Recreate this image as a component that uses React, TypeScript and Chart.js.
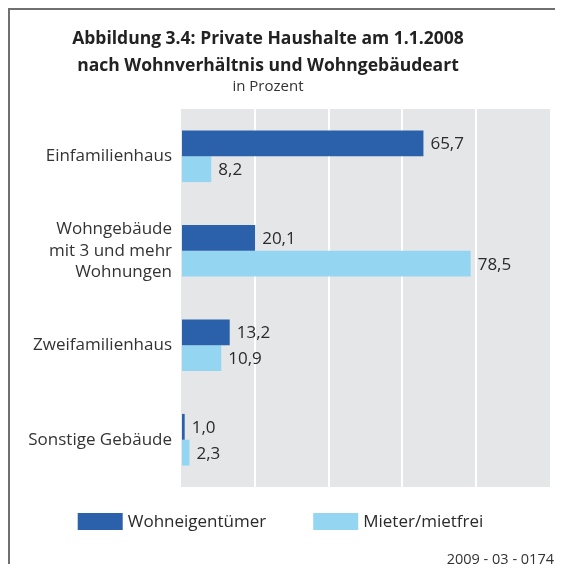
import React, { useEffect, useRef } from 'react';
import { Chart, registerables } from 'chart.js';

Chart.register(...registerables);

// ---- data ----
const categories: (string | string[])[] = [
  'Einfamilienhaus',
  ['Wohngebäude', 'mit 3 und mehr', 'Wohnungen'],
  'Zweifamilienhaus',
  'Sonstige Gebäude',
];
const seriesNames = ['Wohneigentümer', 'Mieter/mietfrei'];
const ownerValues = [65.7, 20.1, 13.2, 1.0];
const tenantValues = [8.2, 78.5, 10.9, 2.3];
const xMin = 0;
const xMax = 100;
const xStep = 20;
const titleLines = ['Abbildung 3.4: Private Haushalte am 1.1.2008', 'nach Wohnverhältnis und Wohngebäudeart'];
const subtitleText = 'in Prozent';
const footnoteText = '2009 - 03 - 0174';

// ---- style ----
const FONT = '"Open Sans", "DejaVu Sans", sans-serif';
const DARK = '#2b60aa';
const LIGHT = '#94d6f1';
const PLOT_BG = '#e5e6e8';
const TEXT = '#2a2a2a';
const LABEL_SIZE = 17;

const fmt = (v: number) => v.toFixed(1).replace('.', ',');

const plotBackground = {
  id: 'plotBackground',
  beforeDraw(chart: any) {
    const { ctx, chartArea } = chart;
    if (!chartArea) return;
    ctx.save();
    ctx.fillStyle = PLOT_BG;
    ctx.fillRect(chartArea.left, chartArea.top, chartArea.right - chartArea.left, chartArea.bottom - chartArea.top);
    ctx.restore();
  },
};

const valueLabels = {
  id: 'valueLabels',
  afterDatasetsDraw(chart: any) {
    const { ctx } = chart;
    ctx.save();
    ctx.font = `${LABEL_SIZE}px ${FONT}`;
    ctx.fillStyle = TEXT;
    ctx.textAlign = 'left';
    ctx.textBaseline = 'middle';
    chart.data.datasets.forEach((ds: any, i: number) => {
      const meta = chart.getDatasetMeta(i);
      meta.data.forEach((bar: any, j: number) => {
        ctx.fillText(fmt(ds.data[j]), bar.x + 7, bar.y + 1);
      });
    });
    ctx.restore();
  },
};

const customLegend = {
  id: 'customLegend',
  afterDraw(chart: any) {
    const { ctx } = chart;
    const boxW = 45;
    const boxH = 17;
    const gap = 5;
    const itemGap = 47;
    const centerX = 270.5;
    const boxTop = 503;
    ctx.save();
    ctx.font = `${LABEL_SIZE}px ${FONT}`;
    const items = chart.data.datasets.map((ds: any) => ({
      text: ds.label,
      color: ds.backgroundColor,
      w: ctx.measureText(ds.label).width,
    }));
    const total = items.reduce((s: number, it: any) => s + boxW + gap + it.w, 0) + itemGap * (items.length - 1);
    let x = centerX - total / 2;
    ctx.textBaseline = 'middle';
    ctx.textAlign = 'left';
    items.forEach((it: any) => {
      ctx.fillStyle = it.color;
      ctx.fillRect(x, boxTop, boxW, boxH);
      ctx.fillStyle = TEXT;
      ctx.fillText(it.text, x + boxW + gap, boxTop + boxH / 2 + 1);
      x += boxW + gap + it.w + itemGap;
    });
    ctx.restore();
  },
};

export default function App() {
  const ref = useRef<HTMLCanvasElement>(null);

  useEffect(() => {
    document.documentElement.style.overflow = 'hidden';
    let chart: Chart | null = null;
    let cancelled = false;
    const make = () => {
      if (cancelled || !ref.current) return;
      chart = new Chart(ref.current, {
        type: 'bar',
        data: {
          labels: categories as any,
          datasets: [
            {
              label: seriesNames[0],
              data: ownerValues,
              backgroundColor: DARK,
              borderWidth: 0,
              categoryPercentage: 0.547,
              barPercentage: 1.0,
            },
            {
              label: seriesNames[1],
              data: tenantValues,
              backgroundColor: LIGHT,
              borderWidth: 0,
              categoryPercentage: 0.547,
              barPercentage: 1.0,
            },
          ],
        },
        options: {
          indexAxis: 'y',
          responsive: false,
          animation: false,
          devicePixelRatio: 1,
          layout: { padding: { top: 99, right: 13, bottom: 85, left: 0 } },
          plugins: {
            legend: { display: false },
            title: { display: false },
            tooltip: { enabled: false },
          },
          scales: {
            x: {
              type: 'linear',
              min: xMin,
              max: xMax,
              ticks: { display: false, stepSize: xStep },
              grid: {
                drawTicks: false,
                lineWidth: 2,
                color: (c: any) =>
                  c.tick && (c.tick.value === xMin || c.tick.value === xMax) ? 'rgba(0,0,0,0)' : '#ffffff',
              },
              border: { display: false },
              afterFit(scale: any) {
                scale.height = 0;
              },
            },
            y: {
              type: 'category',
              grid: { display: false, drawTicks: false },
              border: { display: false },
              ticks: {
                color: '#333333',
                padding: 9,
                font: { family: FONT, size: LABEL_SIZE, lineHeight: 1.28 },
              },
              afterFit(scale: any) {
                scale.width = 171;
              },
            },
          },
        },
        plugins: [plotBackground, valueLabels, customLegend],
      } as any);
    };
    const fontsReady = (document as any).fonts
      ? Promise.all([
          (document as any).fonts.load(`16px "Open Sans"`),
          (document as any).fonts.load(`bold 16px "Open Sans"`),
        ])
      : Promise.resolve();
    fontsReady.then(make, make);
    return () => {
      cancelled = true;
      if (chart) chart.destroy();
    };
  }, []);

  return (
    <div
      style={{
        position: 'relative',
        width: 555,
        height: 564,
        marginBottom: -8,
        boxSizing: 'border-box',
        borderLeft: '2px solid #707070',
        borderTop: '2px solid #707070',
        fontFamily: FONT,
        color: '#222',
        overflow: 'hidden',
      }}
    >
      <canvas
        ref={ref}
        width={553}
        height={562}
        style={{ position: 'absolute', left: 0, top: 0, width: 553, height: 562 }}
      />
      <div
        style={{
          position: 'absolute',
          left: 0,
          width: 516,
          top: 13.7,
          textAlign: 'center',
          fontWeight: 700,
          fontSize: 17.5,
          lineHeight: '27px',
          whiteSpace: 'nowrap',
        }}
      >
        {titleLines.map((t) => (
          <div key={t}>{t}</div>
        ))}
      </div>
      <div
        style={{
          position: 'absolute',
          left: 0,
          width: 516,
          top: 64.9,
          textAlign: 'center',
          fontSize: 15,
          lineHeight: '20px',
          color: '#333',
        }}
      >
        {subtitleText}
      </div>
      <div
        style={{
          position: 'absolute',
          right: 9,
          top: 539.4,
          fontSize: 14.5,
          lineHeight: '20px',
          color: '#333',
          whiteSpace: 'nowrap',
        }}
      >
        {footnoteText}
      </div>
    </div>
  );
}
